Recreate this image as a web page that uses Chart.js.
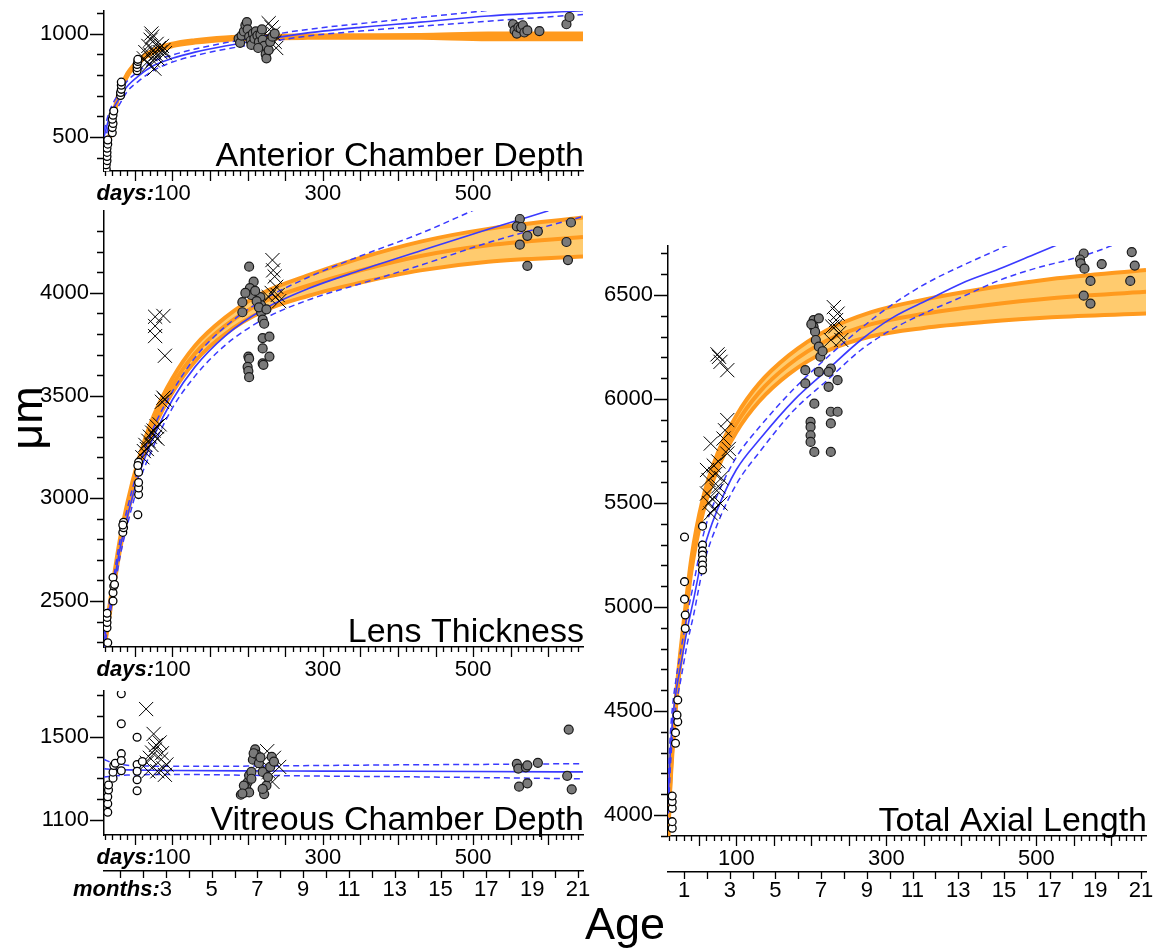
<!DOCTYPE html>
<html>
<head>
<meta charset="utf-8">
<title>Ocular component growth</title>
<script src="https://cdn.jsdelivr.net/npm/chart.js@4.4.1/dist/chart.umd.min.js"></script>
<style>
html,body{margin:0;padding:0;background:#fff;}
body{width:1163px;height:949px;position:relative;overflow:hidden;}
canvas{position:absolute;}
#age{position:absolute;left:525px;width:200px;top:901px;text-align:center;font:45px/45px 'Liberation Sans',Arial,sans-serif;color:#000;}
</style>
</head>
<body>
<canvas id="cACD" width="600" height="215" style="left:0;top:0;width:600px;height:215px"></canvas>
<canvas id="cLens" width="600" height="491" style="left:0;top:200px;width:600px;height:491px"></canvas>
<canvas id="cVCD" width="600" height="269" style="left:0;top:680px;width:600px;height:269px"></canvas>
<canvas id="cTAL" width="573" height="714" style="left:590px;top:235px;width:573px;height:714px"></canvas>
<div id="age">Age</div>
<script>
// ---------------- axis / tick label data ----------------
const AGE_MIN = 9, AGE_MAX = 646, DAYS_PER_MONTH = 30.44;
const dayLabels = [100, 300, 500];
const monthNumbers = [1,2,3,4,5,6,7,8,9,10,11,12,13,14,15,16,17,18,19,20,21];
const monthLabelsLeft = [3,5,7,9,11,13,15,17,19,21];
const monthLabelsRight = [1,3,5,7,9,11,13,15,17,19,21];
const acdTickLabels = [500, 1000];
const lensTickLabels = [2500, 3000, 3500, 4000];
const vcdTickLabels = [1100, 1500];
const talTickLabels = [4000, 4500, 5000, 5500, 6000, 6500];

// ---------------- Anterior Chamber Depth ----------------
const acdOpenAge = [12,12,13,13,13,13,14,14,20,20,21,20,21,22,31,31,32,32,32,53,53,53,54,54];
const acdOpenVal = [345,365,385,405,425,445,465,485,520,545,565,585,605,625,700,715,730,750,765,820,835,850,865,875];
const acdCrossAge = [62,64,66,68,70,71,72,73,74,75,76,78,79,80,82,84,86,88,90,69,228,232,234,236,238,226];
const acdCrossVal = [880,910,860,940,900,970,1000,985,870,920,830,900,950,880,930,910,940,920,905,850,1050,1030,1000,960,930,990];
const acdGrayAge = [188,190,192,195,197,199,200,202,204,205,207,209,211,213,215,217,219,220,222,224,225,228,230,233,236,214,553,555,558,560,563,566,568,572,588,624,628];
const acdGrayVal = [975,955,990,1010,1040,1055,1020,985,965,945,1000,975,1010,990,960,995,1020,970,940,900,880,920,960,985,1000,930,1045,1015,1000,1030,1025,1040,1005,1015,1012,1045,1080];
const acdCurveAge = [9,15,22,30,40,55,75,100,130,170,220,280,350,430,520,646];
const acdBandMid  = [330,470,610,720,800,865,915,945,962,975,982,985,986,986,986,986];
const acdBandHigh = [338,478,618,727,806,871,921,951,968,981,988,991,992,993,1000,1000];
const acdBandLow  = [322,462,602,713,794,859,909,939,956,969,976,979,980,979,972,972];
const acdFit      = [500,580,640,690,745,795,845,880,910,940,970,1003,1030,1055,1085,1110];
const acdFitLow   = [470,550,610,660,720,770,822,862,893,924,955,988,1012,1035,1060,1092];
const acdFitHighAge = [9,15,22,30,40,55,75,100,130,170,220,280,350,430,520];
const acdFitHigh    = [530,610,670,715,770,818,865,896,925,955,987,1020,1048,1078,1112];

// ---------------- Lens Thickness ----------------
const lensOpenAge = [14,13,13,13,13,21,21,22,21,23,34,35,35,34,54,55,55,55,55,55,54];
const lensOpenVal = [2297,2370,2395,2420,2440,2500,2540,2573,2614,2580,2834,2857,2883,2870,2920,3018,3050,3077,3127,3176,3160];
const lensCrossAge = [60,62,64,66,68,70,72,73,75,77,79,80,83,86,88,90,77,88,77,77,90,233,234,236,238,240,228,232,242];
const lensCrossVal = [3200,3230,3260,3240,3280,3300,3260,3320,3330,3300,3350,3290,3360,3470,3490,3480,3884,3888,3839,3790,3694,4160,4110,4080,4030,3990,3980,4000,3960];
const lensGrayAge = [202,208,203,193,193,217,218,218,220,222,220,229,220,229,220,221,201,202,200,201,202,205,210,212,197,215,225,562,558,564,572,586,562,572,630,624,626];
const lensGrayVal = [4128,4055,4023,3955,3906,3980,3940,3905,3870,3850,3780,3787,3730,3690,3657,3650,3690,3680,3640,3620,3590,3990,4010,3960,4000,3930,3920,4360,4324,4321,4278,4300,4235,4132,4343,4248,4160];
const lensCurveAge = [9,15,22,30,40,55,75,100,130,170,220,280,350,430,520,646];
const lensBandMid  = [2280,2420,2590,2770,2950,3160,3370,3550,3705,3840,3955,4035,4110,4180,4232,4272];
const lensBandHigh = [2305,2445,2616,2797,2978,3190,3402,3585,3743,3880,4000,4085,4170,4250,4312,4367];
const lensBandLow  = [2255,2395,2564,2743,2922,3130,3338,3515,3667,3800,3910,3985,4050,4110,4152,4177];
const lensFitAge = [9,15,22,30,40,55,75,100,130,170,220,280,350,430,520,600];
const lensFit    = [2300,2430,2580,2750,2910,3110,3300,3480,3640,3790,3918,4020,4110,4205,4310,4400];
const lensFitHighAge = [9,15,22,30,40,55,75,100,130,170,220,280,350,430,500];
const lensFitHigh    = [2340,2470,2620,2790,2950,3150,3345,3520,3685,3835,3965,4075,4180,4290,4402];
const lensFitLow     = [2260,2390,2540,2710,2870,3070,3255,3440,3595,3745,3870,3965,4045,4135,4245,4372];

// ---------------- Vitreous Chamber Depth ----------------
const vcdOpenAge = [14,14,14,15,15,21,21,22,24,32,32,32,32,32,53,53,53,53,53,60];
const vcdOpenVal = [1136,1177,1210,1243,1267,1300,1329,1361,1372,1707,1562,1418,1385,1336,1497,1366,1333,1292,1239,1380];
const vcdCrossAge = [65,66,73,75,77,83,85,88,90,92,68,80,70,78,86,226,233,235,242,228,220];
const vcdCrossVal = [1633,1374,1423,1513,1439,1472,1390,1348,1316,1366,1333,1333,1398,1460,1420,1430,1282,1398,1354,1330,1380];
const vcdGrayAge = [191,197,200,202,205,207,210,212,215,220,222,225,227,230,232,235,198,195,202,205,220,193,208,217,558,560,561,570,572,572,586,627,625,631];
const vcdGrayVal = [1220,1231,1280,1313,1330,1389,1439,1413,1372,1330,1223,1264,1305,1354,1403,1380,1256,1264,1231,1297,1248,1226,1420,1400,1369,1346,1259,1352,1362,1275,1374,1534,1311,1246];
const vcdFitAge  = [9,20,40,70,100,200,300,400,500,646];
const vcdFit     = [1345,1342,1340,1338,1337,1335,1334,1333,1332,1330];
const vcdFitHigh = [1390,1375,1362,1358,1357,1358,1361,1364,1366,1370];
const vcdFitLow  = [1305,1310,1315,1317,1318,1314,1310,1307,1303,1297];

// ---------------- Total Axial Length ----------------
const talOpenAge = [14.6,14.6,14.6,14.6,14.6,19,19,22,21,22,32,32,31,31,31,55,55,55,55,55,55,55];
const talOpenVal = [3936,3968,4032,4064,4091,4345,4396,4448,4481,4553,4897,4962,5038,5122,5337,5389,5298,5270,5250,5226,5202,5178];
const talCrossAge = [77,79,88,75,88,85,66,61,70,76,63,61,79,66,88,76,83,72,68,74,80,90,64,70,230,235,233,228,237,226,240,232];
const talCrossVal = [6203,6179,6139,6215,5899,5850,5786,5659,5680,5580,5611,5546,5498,5450,5738,5700,5810,5640,5520,5560,5620,5760,5500,5470,6442,6411,6380,6348,6317,6284,6284,6350];
const talGrayAge = [203,210,203,205,206,210,212,210,192,192,204,199,199,199,199,204,226,223,226,235,235,226,226,223,200,215,563,558,559,564,587,572,563,572,627,631,625];
const talGrayVal = [6380,6388,6348,6324,6284,6252,6204,6131,6139,6075,5978,5890,5866,5826,5794,5746,6147,6059,5939,5939,6091,5883,5746,6131,6360,6230,6700,6671,6652,6627,6649,6568,6497,6459,6707,6642,6568];
const talCurveAge = [9,12,15,20,25,30,40,55,75,100,130,170,220,280,350,430,520,646];
const talBandMid  = [3880,4150,4330,4560,4740,4900,5200,5480,5700,5880,6030,6165,6280,6360,6410,6450,6485,6516];
const talBandHigh = [3905,4175,4356,4587,4768,4930,5232,5515,5738,5920,6073,6210,6330,6418,6478,6530,6577,6621];
const talBandLow  = [3855,4125,4304,4533,4712,4870,5168,5445,5662,5840,5987,6120,6230,6302,6342,6370,6393,6411];
const talFitAge  = [9,12,15,20,26,35,43,57,75,100,132,177,221,266,310,355,400,450,500,530];
const talFit     = [4050,4300,4450,4600,4720,4900,5034,5280,5470,5660,5810,5995,6139,6284,6395,6476,6556,6625,6700,6745];
const talFitHighAge = [9,12,15,20,26,35,43,57,75,100,132,177,221,266,310,355,400,440,465];
const talFitHigh    = [4150,4380,4520,4660,4790,4970,5110,5360,5540,5720,5870,6050,6200,6340,6460,6560,6640,6705,6745];
const talFitLowAge  = [9,12,15,20,26,35,43,57,75,100,132,177,221,266,310,355,400,450,500,541,580,605];
const talFitLow     = [3960,4220,4380,4530,4650,4830,4960,5210,5400,5590,5750,5947,6090,6236,6340,6420,6490,6570,6630,6668,6710,6745];

// ---------------- styling ----------------
const FONT = "'Liberation Sans', Arial, Helvetica, sans-serif";
const BAND_LINE = '#ff9a1e';
const BAND_FILL = '#ffcb6e';
const FIT_BLUE = '#3a3aff';
const CLEAR = 'rgba(0,0,0,0)';
const dayTickValues = [];
for (let d = 10; d <= 640; d += 10) dayTickValues.push(d);

Chart.defaults.font.family = FONT;
Chart.defaults.color = '#000';

function pts(xs, ys) { return xs.map((x, i) => ({ x: x, y: ys[i] })); }

function lineDs(xs, ys, color, width, dash, order, extra) {
  return Object.assign({
    data: pts(xs, ys), borderColor: color, borderWidth: width, borderDash: dash,
    pointRadius: 0, showLine: true, fill: false, cubicInterpolationMode: 'monotone',
    order: order
  }, extra || {});
}
function markDs(xs, ys, kind) {
  const base = { data: pts(xs, ys), showLine: false, order: 0 };
  if (kind === 'open') return Object.assign(base, { pointStyle: 'circle', pointRadius: 3.9, pointBackgroundColor: '#fff', pointBorderColor: '#000', pointBorderWidth: 1.3 });
  if (kind === 'gray') return Object.assign(base, { pointStyle: 'circle', pointRadius: 4.5, pointBackgroundColor: '#7a7a7a', pointBorderColor: '#1a1a1a', pointBorderWidth: 1.2 });
  return Object.assign(base, { pointStyle: 'crossRot', pointRadius: 10, pointBorderColor: '#000', pointBorderWidth: 1 });
}

function bandDatasets(age, low, mid, high) {
  return [
    lineDs(age, low, BAND_LINE, 4, [], 3),
    lineDs(age, high, BAND_LINE, 4, [], 3, { fill: { target: 0 }, backgroundColor: BAND_FILL }),
    lineDs(age, mid, BAND_LINE, 4, [], 2)
  ];
}

const decorPlugin = {
  id: 'decor',
  afterDraw(chart, args, o) {
    const ctx = chart.ctx, area = chart.chartArea;
    const xs = chart.scales.x, ys = chart.scales.y, xm = chart.scales.xm;
    ctx.save();
    ctx.strokeStyle = '#000';
    ctx.lineWidth = 1.3;
    ctx.beginPath();
    for (const v of o.yTicks) {
      const py = Math.round(ys.getPixelForValue(v)) + 0.5;
      const len = o.yLabels.includes(v) ? 14 : 7;
      ctx.moveTo(ys.right - len, py); ctx.lineTo(ys.right, py);
    }
    for (const d of dayTickValues) {
      const px = Math.round(xs.getPixelForValue(d)) + 0.5;
      const len = d % 50 === 0 ? 10 : 5;
      ctx.moveTo(px, xs.top); ctx.lineTo(px, xs.top + len);
    }
    if (xm) {
      for (const m of monthNumbers) {
        const px = Math.round(xm.getPixelForValue(m * DAYS_PER_MONTH)) + 0.5;
        ctx.moveTo(px, xm.top); ctx.lineTo(px, xm.top + 7);
      }
    }
    ctx.stroke();

    ctx.fillStyle = '#000';
    ctx.font = '34px ' + FONT;
    ctx.textAlign = 'right';
    ctx.textBaseline = 'alphabetic';
    ctx.fillText(o.title, area.right + 1, area.bottom - 5);

    const prefix = (scale, labelText, text) => {
      let items = [];
      try { items = scale.getLabelItems ? scale.getLabelItems(area) : (scale._labelItems || []); } catch (e) { items = scale._labelItems || []; }
      const it = items.find(i => String(i.label) === labelText);
      ctx.font = '22px ' + FONT;
      const w = ctx.measureText(labelText).width;
      ctx.font = 'italic bold 22px ' + FONT;
      ctx.textAlign = 'right';
      if (it) {
        ctx.textBaseline = it.options.textBaseline || 'middle';
        ctx.fillText(text, it.options.translation[0] - w / 2, it.options.translation[1] + (it.textOffset || 0));
      } else {
        ctx.textBaseline = 'middle';
        ctx.fillText(text, scale.getPixelForValue(Number(labelText)) - w / 2, scale.top + 23);
      }
    };
    if (o.daysPrefix) prefix(xs, '100', 'days:');
    if (o.monthsPrefix && xm) prefix(xm, '3', 'months:');

    if (o.unit) {
      ctx.save();
      ctx.font = '45px ' + FONT;
      ctx.textAlign = 'center';
      ctx.textBaseline = 'middle';
      ctx.translate(30, o.unitY);
      ctx.rotate(-Math.PI / 2);
      ctx.fillText(o.unit, 0, 0);
      ctx.restore();
    }
    ctx.restore();
  }
};

function hundreds(min, max) {
  const out = [];
  for (let v = Math.ceil(min / 100) * 100; v <= max + 0.5; v += 100) out.push(v);
  return out;
}

function makePanel(p) {
  const tickFont = { family: FONT, size: 22 };
  const scales = {
    x: {
      type: 'linear', position: 'bottom', min: AGE_MIN, max: AGE_MAX, weight: 0,
      afterBuildTicks: s => { s.ticks = dayLabels.map(v => ({ value: v })); },
      afterFit: s => { s.height = p.xHeight; },
      grid: { display: true, drawOnChartArea: false, drawTicks: true, tickLength: 9, color: CLEAR, tickColor: CLEAR },
      border: { display: true, color: '#000', width: 1.5 },
      ticks: { autoSkip: false, maxRotation: 0, minRotation: 0, padding: 1, color: '#000', font: tickFont,
        callback: v => String(v) }
    },
    y: {
      type: 'linear', position: 'left', min: p.yMin, max: p.yMax,
      afterBuildTicks: s => { s.ticks = p.yLabels.map(v => ({ value: v })); },
      afterFit: s => { s.width = p.yWidth; },
      grid: { display: true, drawOnChartArea: false, drawTicks: true, tickLength: 14, color: CLEAR, tickColor: CLEAR },
      border: { display: true, color: '#000', width: 1.5 },
      ticks: { autoSkip: false, padding: 1, color: '#000', font: { family: FONT, size: 22, lineHeight: 0.9 },
        callback: v => String(v) }
    }
  };
  if (p.monthLabels) {
    scales.xm = {
      type: 'linear', position: 'bottom', min: AGE_MIN, max: AGE_MAX, weight: 1,
      afterBuildTicks: s => { s.ticks = p.monthLabels.map(m => ({ value: m * DAYS_PER_MONTH })); },
      afterFit: s => { s.height = p.mHeight; },
      grid: { display: true, drawOnChartArea: false, drawTicks: true, tickLength: 5, color: CLEAR, tickColor: CLEAR },
      border: { display: true, color: '#000', width: 1.5 },
      ticks: { autoSkip: false, maxRotation: 0, minRotation: 0, padding: 1, color: '#000', font: tickFont,
        callback: v => String(Math.round(v / DAYS_PER_MONTH)) }
    };
  }
  return new Chart(document.getElementById(p.canvas), {
    type: 'line',
    data: { datasets: p.datasets },
    options: {
      responsive: false, animation: false, events: [],
      layout: { padding: { top: 11, right: p.padRight, left: 0, bottom: 0 } },
      scales: scales,
      plugins: {
        legend: { display: false }, tooltip: { enabled: false }, title: { display: false },
        filler: { drawTime: 'beforeDatasetsDraw', propagate: false },
        decor: {
          title: p.title, yTicks: hundreds(p.yMin, p.yMax), yLabels: p.yLabels,
          daysPrefix: p.daysPrefix, monthsPrefix: p.monthsPrefix, unit: p.unit, unitY: p.unitY
        }
      }
    },
    plugins: [decorPlugin]
  });
}

function blueSet(ageMid, mid, ageHi, hi, ageLo, lo) {
  return [
    lineDs(ageMid, mid, FIT_BLUE, 1.6, [], 1),
    lineDs(ageHi, hi, FIT_BLUE, 1.5, [6, 4], 1),
    lineDs(ageLo, lo, FIT_BLUE, 1.5, [6, 4], 1)
  ];
}

makePanel({
  canvas: 'cACD', yMin: 335, yMax: 1109, yLabels: acdTickLabels, yWidth: 104, padRight: 17, xHeight: 44,
  title: 'Anterior Chamber Depth', daysPrefix: true,
  datasets: [].concat(
    bandDatasets(acdCurveAge, acdBandLow, acdBandMid, acdBandHigh),
    blueSet(acdCurveAge, acdFit, acdFitHighAge, acdFitHigh, acdCurveAge, acdFitLow),
    [markDs(acdOpenAge, acdOpenVal, 'open'), markDs(acdGrayAge, acdGrayVal, 'gray'), markDs(acdCrossAge, acdCrossVal, 'cross')]
  )
});

makePanel({
  canvas: 'cLens', yMin: 2276, yMax: 4399, yLabels: lensTickLabels, yWidth: 104, padRight: 17, xHeight: 44,
  title: 'Lens Thickness', daysPrefix: true, unit: 'μm', unitY: 218,
  datasets: [].concat(
    bandDatasets(lensCurveAge, lensBandLow, lensBandMid, lensBandHigh),
    blueSet(lensFitAge, lensFit, lensFitHighAge, lensFitHigh, lensCurveAge, lensFitLow),
    [markDs(lensOpenAge, lensOpenVal, 'open'), markDs(lensGrayAge, lensGrayVal, 'gray'), markDs(lensCrossAge, lensCrossVal, 'cross')]
  )
});

makePanel({
  canvas: 'cVCD', yMin: 1026, yMax: 1720, yLabels: vcdTickLabels, yWidth: 104, padRight: 17, xHeight: 36, mHeight: 78,
  monthLabels: monthLabelsLeft, title: 'Vitreous Chamber Depth', daysPrefix: true, monthsPrefix: true,
  datasets: [].concat(
    blueSet(vcdFitAge, vcdFit, vcdFitAge, vcdFitHigh, vcdFitAge, vcdFitLow),
    [markDs(vcdOpenAge, vcdOpenVal, 'open'), markDs(vcdGrayAge, vcdGrayVal, 'gray'), markDs(vcdCrossAge, vcdCrossVal, 'cross')]
  )
});

makePanel({
  canvas: 'cTAL', yMin: 3899, yMax: 6736, yLabels: talTickLabels, yWidth: 78, padRight: 17, xHeight: 36, mHeight: 77,
  monthLabels: monthLabelsRight, title: 'Total Axial Length',
  datasets: [].concat(
    bandDatasets(talCurveAge, talBandLow, talBandMid, talBandHigh),
    blueSet(talFitAge, talFit, talFitHighAge, talFitHigh, talFitLowAge, talFitLow),
    [markDs(talOpenAge, talOpenVal, 'open'), markDs(talGrayAge, talGrayVal, 'gray'), markDs(talCrossAge, talCrossVal, 'cross')]
  )
});
</script>
</body>
</html>
